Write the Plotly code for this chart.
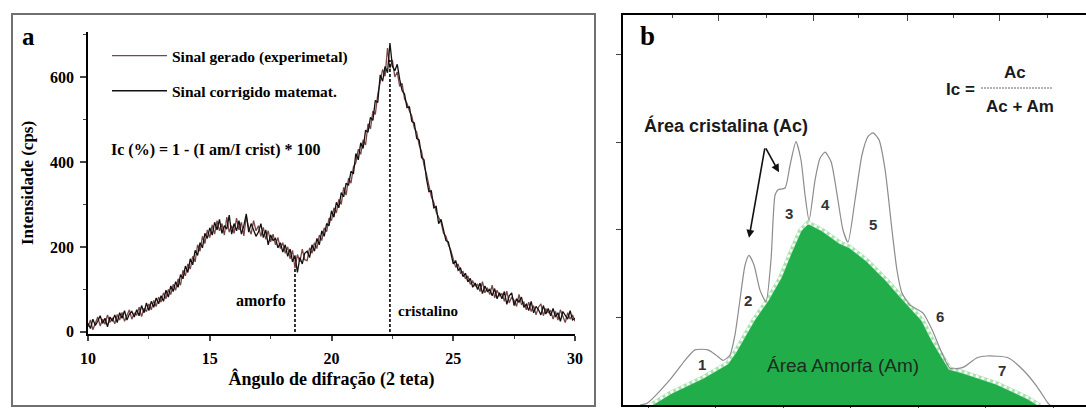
import plotly.graph_objects as go

W, H = 1086, 408

def px(x):
    return x / W

def py(y):
    return 1 - y / H

# ---------------- Panel a data ----------------
angle_start = 10.0
angle_step = 0.1
sinal_gerado = [
    12, 28, 5, 22, 35, 14, 30, 18, 40, 22,
    33, 19, 41, 28, 46, 25, 38, 52, 30, 44,
    40, 58, 36, 55, 48, 66, 52, 74, 60, 82,
    70, 92, 78, 100, 88, 112, 98, 125, 110, 145,
    132, 160, 148, 178, 165, 205, 190, 225, 208, 240,
    222, 252, 230, 262, 238, 255, 228, 270, 235, 250,
    232, 268, 240, 258, 226, 272, 245, 230, 262, 238,
    250, 225, 246, 218, 238, 212, 230, 205, 222, 196,
    210, 185, 200, 172, 192, 150, 182, 165, 195, 170,
    168, 198, 185, 210, 196, 228, 215, 245, 236, 268,
    262, 292, 280, 312, 300, 340, 322, 362, 350, 388,
    398, 430, 418, 452, 440, 490, 478, 520, 512, 560,
    588, 618, 602, 668, 620, 640, 600, 612, 578, 585,
    548, 538, 520, 508, 480, 470, 440, 425, 392, 372,
    345, 318, 305, 282, 270, 258, 232, 225, 205, 192,
    172, 152, 160, 138, 142, 125, 132, 112, 120, 108,
    112, 95, 118, 92, 104, 88, 110, 80, 98, 85,
    90, 72, 96, 68, 82, 74, 60, 88, 65, 70,
    52, 70, 48, 62, 40, 58, 66, 38, 55, 45,
    50, 30, 48, 28, 52, 35, 22, 45, 30, 40,
    25,
]
sinal_corrigido = [
    20, 8, 30, 15, 25, 38, 20, 32, 12, 35,
    25, 40, 22, 45, 32, 50, 28, 42, 48, 35,
    52, 38, 62, 45, 68, 50, 72, 58, 80, 66,
    85, 72, 98, 82, 108, 95, 118, 105, 135, 125,
    155, 140, 172, 158, 192, 180, 210, 198, 232, 220,
    245, 228, 258, 240, 265, 232, 250, 242, 275, 230,
    255, 238, 262, 230, 250, 278, 235, 255, 240, 225,
    235, 255, 222, 240, 205, 228, 215, 220, 198, 210,
    188, 205, 178, 195, 165, 180, 140, 175, 160, 185,
    190, 175, 205, 190, 220, 205, 238, 225, 255, 250,
    285, 270, 305, 292, 328, 318, 350, 345, 378, 372,
    420, 405, 445, 432, 475, 470, 505, 498, 545, 540,
    605, 590, 625, 610, 680, 625, 615, 630, 595, 568,
    560, 528, 530, 495, 492, 455, 452, 410, 405, 360,
    330, 332, 292, 295, 255, 265, 240, 215, 212, 185,
    160, 168, 145, 150, 130, 138, 118, 126, 105, 115,
    100, 115, 90, 108, 95, 100, 85, 102, 78, 92,
    78, 95, 65, 85, 92, 62, 78, 70, 82, 58,
    65, 50, 72, 45, 60, 52, 40, 62, 42, 55,
    38, 55, 35, 45, 25, 48, 38, 30, 50, 28,
    32,
]
angles = [round(angle_start + i * angle_step, 1) for i in range(len(sinal_gerado))]

marker_angles = [18.5, 22.4]          # amorfo / cristalino
marker_intensities = [150, 640]
a_xticks = [10, 15, 20, 25, 30]
a_yticks = [0, 200, 400, 600]

# ---------------- Panel b data ----------------
b_total_x = [4.41, 4.93, 6.63, 7.74, 8.48, 9.44, 10.04, 10.56, 11.07, 11.44,
             11.81, 12.19, 12.48, 12.85, 13.30, 13.74, 14.11, 14.41, 14.63, 15.15,
             15.52, 15.96, 16.33, 16.63, 16.93, 17.37, 17.74, 18.11, 18.56, 19.07,
             19.44, 19.81, 20.33, 20.85, 21.30, 21.67, 22.11, 22.56, 23.07, 23.44,
             23.81, 24.41, 24.63, 25.37, 26.04, 26.78, 27.37, 28.33, 29.37, 30.11,
             31.67, 32.78, 33.81, 34.63, 34.78]
b_total_y = [0.0, 0.02, 0.29, 0.51, 0.63, 0.63, 0.57, 0.51, 0.57, 0.80,
             1.20, 1.60, 1.71, 1.60, 1.31, 1.18, 1.66, 2.40, 2.46, 2.48,
             2.74, 3.01, 2.80, 2.40, 2.11, 2.57, 2.82, 2.89, 2.78, 2.34,
             2.00, 1.86, 2.34, 2.86, 3.07, 3.11, 3.03, 2.69, 2.00, 1.54,
             1.28, 1.14, 1.12, 1.05, 0.86, 0.59, 0.42, 0.43, 0.54, 0.56,
             0.54, 0.40, 0.21, 0.02, 0.0]
b_amorph_x = [5.15, 6.63, 9.07, 10.85, 11.44, 12.78, 13.81, 14.78, 15.52, 16.26,
              16.85, 17.96, 19.22, 19.96, 21.22, 22.70, 23.67, 24.63, 25.37, 26.11,
              26.85, 27.37, 28.33, 30.85, 33.07, 34.04]
b_amorph_y = [0.0, 0.14, 0.32, 0.48, 0.61, 0.97, 1.20, 1.46, 1.74, 2.00,
              2.09, 2.00, 1.86, 1.81, 1.66, 1.43, 1.26, 1.09, 0.97, 0.74,
              0.55, 0.42, 0.38, 0.25, 0.09, 0.0]
peak_labels = ["1", "2", "3", "4", "5", "6", "7"]
peak_label_x = [9.0, 12.41, 15.44, 18.11, 21.67, 26.63, 31.2]
peak_label_y = [0.46, 1.19, 2.19, 2.29, 2.06, 1.01, 0.40]
b_bottom_ticks = [5, 10, 15, 20, 25, 30, 35]
b_top_major = [10.19, 17.22, 24.19, 31.07]
b_top_minor = [6.78, 13.81, 20.56, 27.59, 34.56]
b_left_ticks = [1, 2, 3, 4]
arrow_tail = (13.67, 2.95)
arrow_heads_x = [12.48, 14.70]
arrow_heads_y = [1.91, 2.66]

SERIF = "Liberation Serif"
SANS = "Liberation Sans"

fig = go.Figure()

# Panel a traces
fig.add_trace(go.Scatter(x=angles, y=sinal_gerado, mode="lines",
                         line=dict(color="#7a4646", width=1.3),
                         name="Sinal gerado (experimetal)", legendgroup="g1",
                         xaxis="x", yaxis="y"))
fig.add_trace(go.Scatter(x=angles, y=sinal_corrigido, mode="lines",
                         line=dict(color="#141010", width=1.3),
                         name="Sinal corrigido matemat.", legendgroup="g2",
                         xaxis="x", yaxis="y"))
for ang, inten in zip(marker_angles, marker_intensities):
    fig.add_trace(go.Scatter(x=[ang, ang], y=[0, inten], mode="lines",
                             line=dict(color="black", width=1.6, dash="3px,2px"),
                             showlegend=False, xaxis="x", yaxis="y"))

# Panel b traces
fig.add_trace(go.Scatter(x=b_amorph_x, y=b_amorph_y, mode="lines",
                         fill="tozeroy", fillcolor="#22ad4b",
                         line=dict(color="#a8e2b0", width=3.5),
                         showlegend=False, xaxis="x2", yaxis="y2"))
fig.add_trace(go.Scatter(x=b_amorph_x, y=b_amorph_y, mode="lines",
                         line=dict(color="white", width=2.5, dash="3px,3px"),
                         showlegend=False, xaxis="x2", yaxis="y2"))
fig.add_trace(go.Scatter(x=b_total_x, y=b_total_y, mode="lines",
                         line=dict(color="#8c8c8c", width=1.2, shape="spline", smoothing=0.6),
                         showlegend=False, xaxis="x3", yaxis="y2"))

def ptext(text, x, y, family, size, color="black", xanchor="center"):
    return dict(text=text, x=px(x), y=py(y), xref="paper", yref="paper",
                xanchor=xanchor, yanchor="middle", showarrow=False,
                font=dict(family=family, size=size, color=color))

annotations = []
# Panel a texts
annotations.append(ptext("<b>a</b>", 28, 36, SERIF, 25))
annotations.append(ptext("<b>Ic (%) = 1 - (I am/I crist) * 100</b>", 109, 150, SERIF, 16,
                         xanchor="left"))
annotations.append(dict(text="<b>amorfo</b>", x=17.1, y=75, xref="x", yref="y",
                        xanchor="center", yanchor="middle", showarrow=False,
                        font=dict(family=SERIF, size=16, color="black")))
annotations.append(dict(text="<b>cristalino</b>", x=23.95, y=50, xref="x", yref="y",
                        xanchor="center", yanchor="middle", showarrow=False,
                        font=dict(family=SERIF, size=15, color="black")))

# Panel b texts
annotations.append(ptext("<b>b</b>", 647, 36, SERIF, 27))
annotations.append(ptext("<b>Área cristalina (Ac)</b>", 642, 125, SANS, 18, "#1a1a1a",
                         xanchor="left"))
annotations.append(ptext("<b>Ic =</b>", 960, 89, SANS, 17, "#1a1a1a"))
annotations.append(ptext("<b>Ac</b>", 1015, 72, SANS, 17, "#1a1a1a"))
annotations.append(ptext("<b>Ac + Am</b>", 1020, 107, SANS, 17, "#1a1a1a"))
annotations.append(dict(text="Área Amorfa (Am)", x=19.44, y=0.45, xref="x2", yref="y2",
                        xanchor="center", yanchor="middle", showarrow=False,
                        font=dict(family=SANS, size=19, color="#1e2a1e")))
for lab, lx, ly in zip(peak_labels, peak_label_x, peak_label_y):
    annotations.append(dict(text="<b>%s</b>" % lab, x=lx, y=ly, xref="x2", yref="y2",
                            xanchor="center", yanchor="middle", showarrow=False,
                            font=dict(family=SANS, size=15, color="#333333")))
for hx, hy in zip(arrow_heads_x, arrow_heads_y):
    annotations.append(dict(text="", x=hx, y=hy, xref="x2", yref="y2",
                            ax=arrow_tail[0], ay=arrow_tail[1], axref="x2", ayref="y2",
                            showarrow=True, arrowhead=2, arrowsize=1, arrowwidth=1.6,
                            arrowcolor="#111111", standoff=0, startstandoff=0))

shapes = [
    dict(type="rect", xref="paper", yref="paper", x0=px(12), x1=px(595), y0=py(406), y1=py(14),
         line=dict(color="#707070", width=2)),
    dict(type="line", xref="paper", yref="paper", x0=px(981), x1=px(1053), y0=py(88), y1=py(88),
         line=dict(color="#666666", width=1, dash="2px,1px")),
]

axis_common = dict(showline=True, linecolor="black", linewidth=1.5, showgrid=False,
                   zeroline=False, automargin=False)

fig.update_layout(
    width=W, height=H,
    margin=dict(l=0, r=0, t=0, b=0, pad=0, autoexpand=False),
    paper_bgcolor="white", plot_bgcolor="white",
    showlegend=True,
    legend=dict(x=px(107), y=py(39), xanchor="left", yanchor="top",
                bgcolor="rgba(0,0,0,0)", tracegroupgap=12, itemwidth=55,
                font=dict(family=SERIF, size=15.5, color="black", weight="bold")),
    xaxis=dict(domain=[px(88), px(575)], range=[10, 30], anchor="y",
               tickvals=a_xticks, ticks="outside", ticklen=5, tickwidth=1.5,
               ticklabelstandoff=4,
               minor=dict(dtick=2.5, ticks="outside", ticklen=3, tickwidth=1),
               tickfont=dict(family=SERIF, size=16, color="black", weight="bold"),
               title=dict(text="<b>Ângulo de difração (2 teta)</b>", standoff=6,
                          font=dict(family=SERIF, size=18, color="black")),
               **axis_common),
    yaxis=dict(domain=[py(334), py(32)], range=[-5, 706], anchor="x",
               tickvals=a_yticks, ticks="outside", ticklen=6, tickwidth=1.5,
               ticklabelstandoff=3,
               minor=dict(dtick=100, ticks="outside", ticklen=3, tickwidth=1),
               tickfont=dict(family=SERIF, size=16, color="black", weight="bold"),
               title=dict(text="<b>Intensidade (cps)</b>", standoff=12,
                          font=dict(family=SERIF, size=17, color="black")),
               **axis_common),
    xaxis2=dict(domain=[px(623), 1.0], range=[3.148, 37.44], anchor="y2",
                tickvals=b_bottom_ticks, ticks="outside", ticklen=4, tickwidth=1,
                showticklabels=False, **axis_common),
    xaxis3=dict(overlaying="x2", side="top", range=[3.148, 37.44], anchor="y2",
                tickvals=b_top_major, ticks="inside", ticklen=6, tickwidth=1,
                minor=dict(tickvals=b_top_minor, ticks="inside", ticklen=3, tickwidth=1),
                showticklabels=False, **axis_common),
    yaxis2=dict(domain=[py(405), py(15)], range=[0, 4.457], anchor="x2",
                tickvals=b_left_ticks, ticks="outside", ticklen=5, tickwidth=1,
                showticklabels=False, **axis_common),
    annotations=annotations,
    shapes=shapes,
)

fig.write_html("out.html",
               config={"displayModeBar": False},
               post_script="document.body.style.margin='0';document.body.style.padding='0';")
